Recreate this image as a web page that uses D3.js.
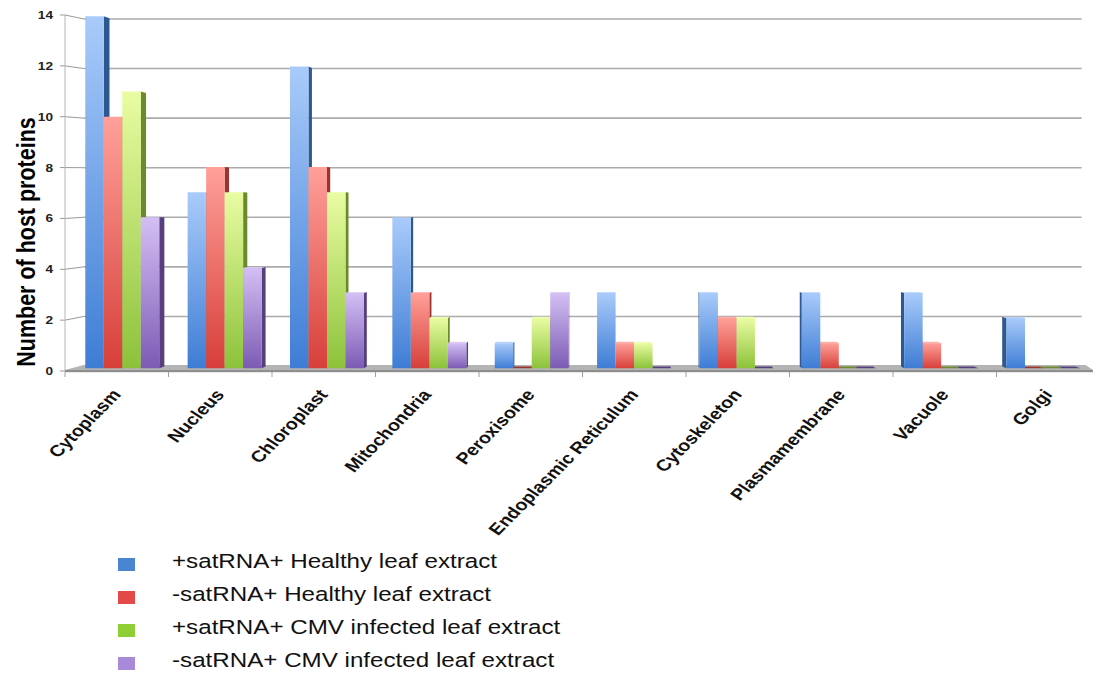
<!DOCTYPE html>
<html>
<head>
<meta charset="utf-8">
<script src="https://cdn.jsdelivr.net/npm/d3@7"></script>
<style>
  html, body { margin: 0; padding: 0; background: #ffffff; }
  svg { display: block; }
</style>
</head>
<body>
<svg id="chart" width="1099" height="675"></svg>
<script>
// ---- data ---------------------------------------------------------------
const categories = ["Cytoplasm", "Nucleus", "Chloroplast", "Mitochondria", "Peroxisome",
  "Endoplasmic Reticulum", "Cytoskeleton", "Plasmamembrane", "Vacuole", "Golgi"];
const seriesNames = ["+satRNA+ Healthy leaf extract", "-satRNA+ Healthy leaf extract",
  "+satRNA+ CMV infected leaf extract", "-satRNA+ CMV infected leaf extract"];
const healthyPlus  = [14, 7, 12, 6, 1, 3, 3, 3, 3, 2];
const healthyMinus = [10, 8, 8, 3, 0, 1, 2, 1, 1, 0];
const cmvPlus      = [11, 7, 7, 2, 2, 1, 2, 0, 0, 0];
const cmvMinus     = [6, 4, 3, 1, 3, 0, 0, 0, 0, 0];
const yTicks = [0, 2, 4, 6, 8, 10, 12, 14];
const yTitle = "Number of host proteins";

const seriesValues = [healthyPlus, healthyMinus, cmvPlus, cmvMinus];

// ---- styling ------------------------------------------------------------
const palette = [
  { top: "#a9cbfa", bottom: "#3e7dd5", side: "#2d5891", cap: "#b8d4fb", key: "#4a86d2" },
  { top: "#ffa099", bottom: "#d73f3a", side: "#9a3430", cap: "#ffb0a9", key: "#e24a46" },
  { top: "#e9fca2", bottom: "#8cc23a", side: "#6a8a2b", cap: "#effdb8", key: "#8fce34" },
  { top: "#d4bff4", bottom: "#7c5bb4", side: "#55407d", cap: "#ddcbf6", key: "#a88ad8" }
];
const FONT = "'Liberation Sans', Arial, Helvetica, sans-serif";
const SX = 1.24;              // horizontal text stretch

// perspective: vanishing point and depth factors
const VX = 618, VY = 212;
const S_BAR_FRONT = 0.989, S_BAR_BACK = 0.978;
const S_WALL_X = 0.966, S_WALL_Y = 0.975;
const proj = (x, y, s, sy) => [VX + s * (x - VX), VY + (sy === undefined ? s : sy) * (y - VY)];

const svg = d3.select("#chart");

// ---- scales -------------------------------------------------------------
const x0 = d3.scaleBand().domain(categories).range([65, 1100]).paddingInner(0).paddingOuter(0);
const x1 = d3.scaleBand().domain(d3.range(seriesNames.length))
  .range([0, x0.bandwidth()]).paddingInner(0).paddingOuter(0.767);
const y = d3.scaleLinear().domain([0, 14]).range([370, 14]);

// ---- gradients ----------------------------------------------------------
const defs = svg.append("defs");
palette.forEach((p, i) => {
  const g = defs.append("linearGradient").attr("id", "bar" + i)
    .attr("x1", 0).attr("y1", 0).attr("x2", 0).attr("y2", 1);
  g.append("stop").attr("offset", "0%").attr("stop-color", p.top);
  g.append("stop").attr("offset", "100%").attr("stop-color", p.bottom);
});
const blur = defs.append("filter").attr("id", "soft").attr("x", "-30%").attr("y", "-30%")
  .attr("width", "160%").attr("height", "160%");
blur.append("feGaussianBlur").attr("stdDeviation", 0.6);

// ---- back wall gridlines and left wall ticks ----------------------------
const wallL = proj(x0.range()[0], 0, S_WALL_X)[0];
const wallR = proj(x0.range()[1], 0, S_WALL_X)[0];
const yb = v => proj(0, y(v), 1, S_WALL_Y)[1];

const grid = svg.append("g");
grid.selectAll("line.grid").data(yTicks.filter(v => v > 0)).join("line")
  .attr("x1", wallL).attr("x2", wallR - 2)
  .attr("y1", yb).attr("y2", yb)
  .attr("stroke", "#ababab").attr("stroke-width", 1.6);
grid.selectAll("line.diag").data(yTicks).join("line")
  .attr("x1", x0.range()[0]).attr("y1", v => y(v) + 1)
  .attr("x2", wallL).attr("y2", yb)
  .attr("stroke", "#9a9a9a").attr("stroke-width", 1);
grid.selectAll("line.tick").data(yTicks).join("line")
  .attr("x1", x0.range()[0] - 5).attr("x2", x0.range()[0])
  .attr("y1", v => y(v) + 1).attr("y2", v => y(v) + 1)
  .attr("stroke", "#9a9a9a").attr("stroke-width", 1);
grid.append("line")
  .attr("x1", x0.range()[0]).attr("x2", x0.range()[0])
  .attr("y1", y(14) + 1).attr("y2", y(0) + 1)
  .attr("stroke", "#b5b5b5").attr("stroke-width", 1);

// ---- floor --------------------------------------------------------------
const fy = y(0);
const fl = proj(x0.range()[0], fy, S_WALL_X, S_WALL_Y);
const fr = proj(x0.range()[1], fy, S_WALL_X, S_WALL_Y);
svg.append("polygon")
  .attr("points", [[x0.range()[0], fy], [x0.range()[1] - 7, fy], [fr[0] + 2, fr[1] - 1], [fl[0], fl[1] - 1]].join(" "))
  .attr("fill", "#b4b4b4");
svg.append("rect")
  .attr("x", x0.range()[0]).attr("y", fy).attr("width", x0.range()[1] - 7 - x0.range()[0]).attr("height", 2.2)
  .attr("fill", "#8e8e8e");
svg.append("g").selectAll("line").data(categories).join("line")
  .attr("x1", d => x0(d)).attr("x2", d => x0(d))
  .attr("y1", fy + 2).attr("y2", fy + 7)
  .attr("stroke", "#a0a0a0").attr("stroke-width", 1);

// ---- bars ---------------------------------------------------------------
const bars = [];
categories.forEach((c, ci) => {
  seriesValues.forEach((vals, si) => {
    const xl = x0(c) + x1(si), xr = xl + x1.bandwidth();
    bars.push({ c, si, v: vals[ci], xl, xr });
  });
});
// farthest from the vanishing line first so nearer bars overlap correctly
bars.sort((a, b) => Math.abs((b.xl + b.xr) / 2 - VX) - Math.abs((a.xl + a.xr) / 2 - VX));

const barG = svg.append("g");
bars.forEach(b => {
  const p = palette[b.si];
  const yt = y(b.v), y0 = y(0);
  const fTL = proj(b.xl, yt, S_BAR_FRONT), fTR = proj(b.xr, yt, S_BAR_FRONT);
  const fBL = proj(b.xl, y0, S_BAR_FRONT), fBR = proj(b.xr, y0, S_BAR_FRONT);
  const bTL = proj(b.xl, yt, S_BAR_BACK), bTR = proj(b.xr, yt, S_BAR_BACK);
  const bBL = proj(b.xl, y0, S_BAR_BACK), bBR = proj(b.xr, y0, S_BAR_BACK);
  const g = barG.append("g");
  const onLeft = (b.xl + b.xr) / 2 < VX;
  const side = onLeft ? [fTR, bTR, bBR, fBR] : [fTL, bTL, bBL, fBL];
  g.append("polygon").attr("points", side.join(" ")).attr("fill", p.side);
  if (yt > VY) {
    g.append("polygon").attr("points", [fTL, fTR, bTR, bTL].join(" "))
      .attr("fill", b.v === 0 ? p.side : p.cap);
  }
  if (b.v > 0) {
    g.append("polygon").attr("points", [fTL, fTR, fBR, fBL].join(" "))
      .attr("fill", `url(#bar${b.si})`);
  }
});

// ---- axis labels ----------------------------------------------------------
svg.append("g").selectAll("text").data(yTicks).join("text")
  .attr("transform", v => `translate(53,${y(v) + 1}) scale(${SX},1)`)
  .attr("text-anchor", "end").attr("dy", "0.36em")
  .attr("font-family", FONT).attr("font-weight", "bold").attr("font-size", 11)
  .attr("fill", "#222").text(v => v);

svg.append("text")
  .attr("transform", `translate(35,${(y(0) + y(14)) / 2 + 50}) scale(${SX},1) rotate(-90)`)
  .attr("text-anchor", "middle")
  .attr("font-family", FONT).attr("font-weight", "bold").attr("font-size", 21.5)
  .attr("fill", "#000").text(yTitle);

const angle = Math.atan(SX) * 180 / Math.PI;
svg.append("g").selectAll("text").data(categories).join("text")
  .attr("transform", d => `translate(${x0(d) + x0.bandwidth() / 2 + 5},395) scale(${SX},1) rotate(${-angle})`)
  .attr("text-anchor", "end")
  .attr("font-family", FONT).attr("font-weight", "bold").attr("font-size", 16)
  .attr("fill", "#111").text(d => d);

// ---- legend -------------------------------------------------------------
const legend = svg.append("g");
const rowY = d3.scaleBand().domain(d3.range(seriesNames.length)).range([552, 684]);
seriesNames.forEach((name, i) => {
  const base = rowY(i) + 16;
  legend.append("rect").attr("x", 118).attr("y", base - 10).attr("width", 17).attr("height", 13)
    .attr("fill", palette[i].key).attr("filter", "url(#soft)");
  legend.append("text")
    .attr("transform", `translate(172,${base}) scale(${SX},1)`)
    .attr("font-family", FONT).attr("font-size", 19.5).attr("fill", "#111").text(name);
});
</script>
</body>
</html>
